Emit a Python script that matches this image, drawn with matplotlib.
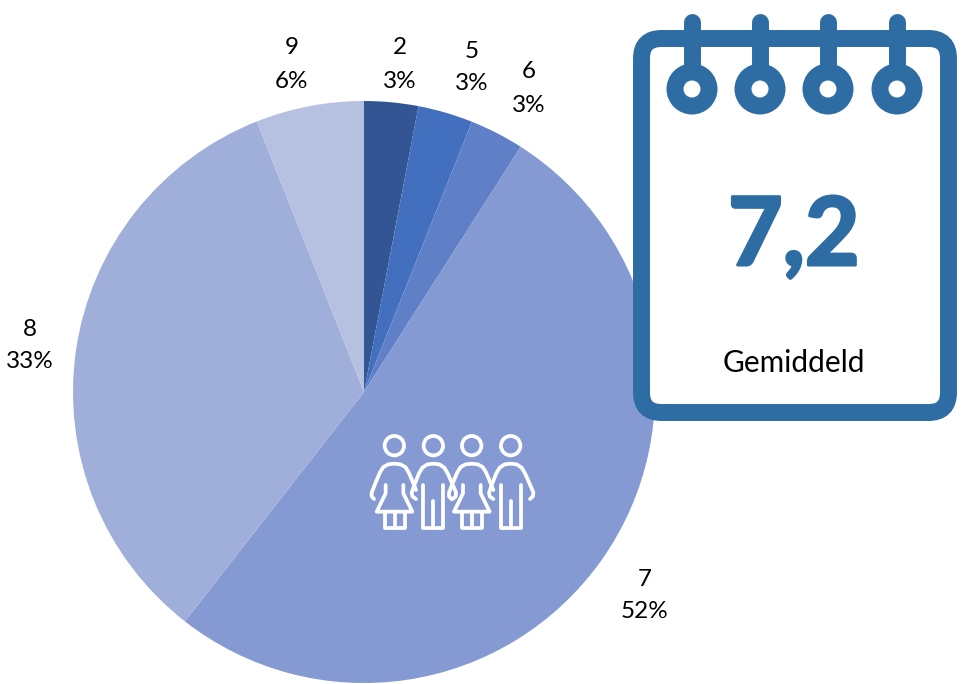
import matplotlib
matplotlib.use("Agg")
import matplotlib.pyplot as plt
import matplotlib.patheffects as pe
from matplotlib.patches import Circle, FancyBboxPatch
from matplotlib.path import Path
from matplotlib.patches import PathPatch

plt.rcParams['font.family'] = ['Lato', 'DejaVu Sans']

# chart data
categories = ["2", "5", "6", "7", "8", "9"]
shares = [3.0, 3.05, 3.0, 51.5, 33.45, 6.0]
percent_labels = ["3%", "3%", "3%", "52%", "33%", "6%"]
colors = ["#335593", "#4270BF", "#5F7FC6", "#8599D3", "#A0AEDA", "#B6C1E1"]
label_x = [400, 472, 529, 645, 30, 292]
label_y = [48, 51, 72, 579, 329, 48]

average = "7,2"
average_label = "Gemiddeld"
blue = "#2E6DA4"

W, H = 961, 684

fig = plt.figure(figsize=(W / 100, H / 100), dpi=100)
ax = fig.add_axes([0, 0, 1, 1])


# y is measured from the top in the reference
def Y(y):
    return H - y


ax.pie(shares, colors=colors, startangle=90, counterclock=False,
       center=(364, Y(392)), radius=291, frame=True,
       wedgeprops={"edgecolor": "none", "linewidth": 0})

ax.set_xlim(0, W)
ax.set_ylim(0, H)
ax.set_aspect("equal")
ax.axis("off")

# labels: category on top, percent below
for i in range(len(categories)):
    ax.text(label_x[i], Y(label_y[i]), categories[i], ha="center", va="center", fontsize=17.5, color="black")
    ax.text(label_x[i], Y(label_y[i] + 33), percent_labels[i], ha="center", va="center", fontsize=17.5, color="black")

# calendar
ax.add_patch(FancyBboxPatch((641.5, Y(412.5)), 307, 374,
                            boxstyle="round,pad=0,rounding_size=20",
                            facecolor="white", edgecolor=blue, linewidth=12.2, zorder=5))
for x in [692, 760, 828, 897]:
    ax.plot([x, x], [Y(22), Y(89)], color=blue, linewidth=12.2, solid_capstyle="round", zorder=6)
    ax.add_patch(Circle((x, Y(89)), 25.5, facecolor=blue, edgecolor="none", zorder=7))
    ax.add_patch(Circle((x, Y(89)), 8.5, facecolor="white", edgecolor="none", zorder=8))

# the reference number is heavier than Lato bold, so thicken it a little
ax.text(794, Y(265), average, ha="center", va="baseline", fontsize=68, fontweight="bold", color=blue, zorder=9,
        path_effects=[pe.withStroke(linewidth=2.2, foreground=blue)])
ax.text(794, Y(372), average_label, ha="center", va="baseline", fontsize=21.5, color="black", zorder=9)


# people icon, coordinates from a 3x crop starting at (360, 425)
def icon_line(verts, dx):
    pts = [(360 + (x + dx) / 3, Y(425 + y / 3)) for x, y in verts]
    codes = [Path.MOVETO] + [Path.LINETO] * (len(pts) - 1)
    ax.add_patch(PathPatch(Path(pts, codes), facecolor="none", edgecolor="white", linewidth=2.7,
                           capstyle="round", joinstyle="round", zorder=3))


def head(x, dx):
    ax.add_patch(Circle((360 + (x + dx) / 3, Y(425 + 62 / 3)), 9.7, facecolor="none",
                        edgecolor="white", linewidth=2.7, zorder=3))


def woman(dx):
    head(103, dx)
    icon_line([(42, 222), (35, 214), (35, 203), (48, 170), (60, 142), (70, 126), (85, 118), (103, 116),
               (121, 118), (136, 126), (146, 142), (158, 170), (168, 195)], dx)
    icon_line([(77, 180), (77, 205), (50, 260), (157, 260), (130, 205), (130, 180)], dx)
    icon_line([(74, 260), (74, 310), (134, 310), (134, 260)], dx)
    icon_line([(104, 260), (104, 310)], dx)


def man(dx):
    head(220, dx)
    icon_line([(168, 222), (157, 214), (155, 203), (165, 175), (177, 145), (187, 128), (202, 118), (220, 116),
               (238, 118), (253, 128), (263, 145), (275, 172), (288, 202), (287, 214), (278, 222)], dx)
    icon_line([(190, 180), (190, 310), (250, 310), (250, 180)], dx)
    icon_line([(220, 228), (220, 310)], dx)


woman(0)
man(0)
woman(232)
man(232)

fig.savefig("out.png", dpi=100)
